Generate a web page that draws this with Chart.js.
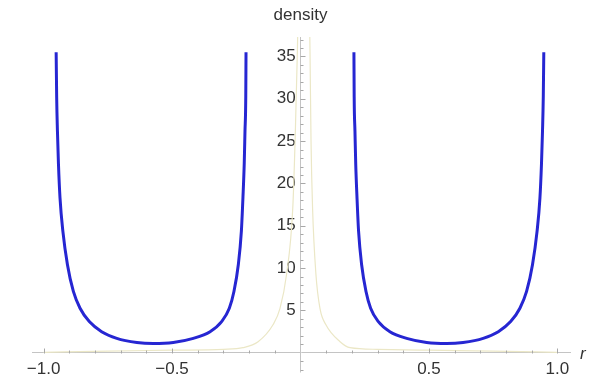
<!DOCTYPE html>
<html><head><meta charset="utf-8">
<script src="https://cdn.jsdelivr.net/npm/chart.js@4.4.1/dist/chart.umd.min.js"></script>
<style>html,body{margin:0;padding:0;background:#fff;}canvas{display:block;}</style>
</head><body>
<canvas id="c" width="590" height="379"></canvas>
<script>
// Left U-shaped density branch (r, density)
const leftR = [-0.951, -0.949, -0.946, -0.942, -0.936, -0.925, -0.907, -0.884, -0.858, -0.822, -0.774, -0.715, -0.637, -0.573,
               -0.495, -0.417, -0.352, -0.307, -0.277, -0.259, -0.242, -0.230, -0.224, -0.219, -0.216, -0.213, -0.212];
const leftD = [35.5, 30.2, 26.2, 22.3, 18.3, 14.4, 10.4, 7.24, 5.26, 3.68, 2.49, 1.70, 1.22, 1.10,
               1.22, 1.70, 2.49, 3.68, 5.26, 7.24, 10.4, 14.4, 18.3, 22.3, 26.2, 30.2, 35.5];
// Right U-shaped density branch
const rightR = [0.208, 0.209, 0.212, 0.215, 0.220, 0.226, 0.238, 0.255, 0.273, 0.303, 0.348, 0.413, 0.491, 0.569,
                0.633, 0.711, 0.770, 0.818, 0.854, 0.880, 0.903, 0.921, 0.932, 0.938, 0.942, 0.945, 0.947];
const rightD = [35.5, 30.2, 26.2, 22.3, 18.3, 14.4, 10.4, 7.24, 5.26, 3.68, 2.49, 1.70, 1.22, 1.10,
                1.22, 1.70, 2.49, 3.68, 5.26, 7.24, 10.4, 14.4, 18.3, 22.3, 26.2, 30.2, 35.5];
// Pale narrow peak near r = 0
const peakR = [-1.0, -0.75, -0.5, -0.3, -0.224, -0.165, -0.107, -0.080, -0.054, -0.030, -0.021, -0.012, 0.012,
               0.037, 0.041, 0.047, 0.060, 0.076, 0.099, 0.154, 0.193, 0.3, 0.5, 0.75, 1.0];
const peakD = [0.05, 0.2, 0.3, 0.4, 0.6, 1.3, 3.3, 5.2, 9.3, 17.1, 25, 35.7, 80,
               35.7, 25, 17.1, 9.3, 5.2, 3.3, 1.3, 0.6, 0.4, 0.3, 0.2, 0.05];

const xTickValues = [-1, -0.5, 0.5, 1];
const xTickLabels = ['\u22121.0', '\u22120.5', '0.5', '1.0'];
const yTickValues = [5, 10, 15, 20, 25, 30, 35];
const yTickLabels = ['5', '10', '15', '20', '25', '30', '35'];
const yAxisTitle = 'density';
const xAxisTitle = 'r';

const FONT = '"Liberation Sans", Arial, sans-serif';
const pts = (xs, ys) => xs.map((v, i) => ({x: v, y: ys[i]}));

const decor = {
  id: 'decor',
  afterDraw(chart) {
    const {ctx, scales: {x, y}} = chart;
    const x0 = Math.round(x.getPixelForValue(0)) + 0.5;
    const y0 = Math.round(y.getPixelForValue(0)) + 0.5;
    ctx.save();
    ctx.strokeStyle = '#c4c4c4';
    ctx.lineWidth = 1;
    ctx.beginPath(); ctx.moveTo(x0, y.bottom); ctx.lineTo(x0, y0 + 19); ctx.stroke();
    ctx.strokeStyle = '#a8a8a8';
    for (let i = -10; i <= 10; i++) {
      if (i === 0) continue;
      const px = Math.round(x.getPixelForValue(i / 10)) + 0.5;
      const len = (i % 5 === 0) ? 5 : 3;
      ctx.beginPath(); ctx.moveTo(px, y0); ctx.lineTo(px, y0 - len); ctx.stroke();
    }
    for (let j = -2; j <= 37; j++) {
      if (j === 0) continue;
      const py = Math.round(y.getPixelForValue(j)) + 0.5;
      if (py > y0 + 19) continue;
      const len = (j % 5 === 0) ? 5 : 3;
      ctx.beginPath(); ctx.moveTo(x0, py); ctx.lineTo(x0 + len, py); ctx.stroke();
    }
    ctx.fillStyle = '#333';
    ctx.font = '17px ' + FONT;
    ctx.textAlign = 'center';
    ctx.textBaseline = 'middle';
    ctx.fillText(yAxisTitle, x0, 15);
    ctx.font = 'italic 17px ' + FONT;
    ctx.textAlign = 'left';
    ctx.fillText(xAxisTitle, x.right + 10, y0 + 1);
    ctx.restore();
  }
};

new Chart(document.getElementById('c'), {
  type: 'scatter',
  data: {
    datasets: [
      {data: pts(peakR, peakD), showLine: true, borderColor: '#ebe7c6', borderWidth: 1.2,
       pointRadius: 0, cubicInterpolationMode: 'monotone', order: 2},
      {data: pts(leftR, leftD), showLine: true, borderColor: '#2626d2', borderWidth: 3,
       pointRadius: 0, cubicInterpolationMode: 'monotone', order: 1},
      {data: pts(rightR, rightD), showLine: true, borderColor: '#2626d2', borderWidth: 3,
       pointRadius: 0, cubicInterpolationMode: 'monotone', order: 1}
    ]
  },
  options: {
    responsive: false,
    animation: false,
    devicePixelRatio: 1,
    layout: {padding: {left: 32, right: 20, top: 37, bottom: 9}},
    plugins: {legend: {display: false}, tooltip: {enabled: false}, title: {display: false}},
    scales: {
      x: {
        type: 'linear', min: -1.045, max: 1.049, position: {y: 0},
        grid: {display: false, drawTicks: false},
        border: {display: true, color: '#c4c4c4', width: 1},
        afterBuildTicks: s => { s.ticks = xTickValues.map(v => ({value: v})); },
        ticks: {
          color: '#333', font: {family: FONT, size: 17}, padding: 6, maxRotation: 0, autoSkip: false,
          callback: v => xTickLabels[xTickValues.indexOf(v)]
        }
      },
      y: {
        type: 'linear', min: -0.48, max: 37.3, position: {x: 0},
        grid: {display: false, drawTicks: false},
        border: {display: true, color: '#c4c4c4', width: 1},
        afterBuildTicks: s => { s.ticks = yTickValues.map(v => ({value: v})); },
        ticks: {
          color: '#333', font: {family: FONT, size: 17}, padding: 12, autoSkip: false,
          callback: v => yTickLabels[yTickValues.indexOf(v)] + ' '
        }
      }
    }
  },
  plugins: [decor]
});
</script>
</body></html>
